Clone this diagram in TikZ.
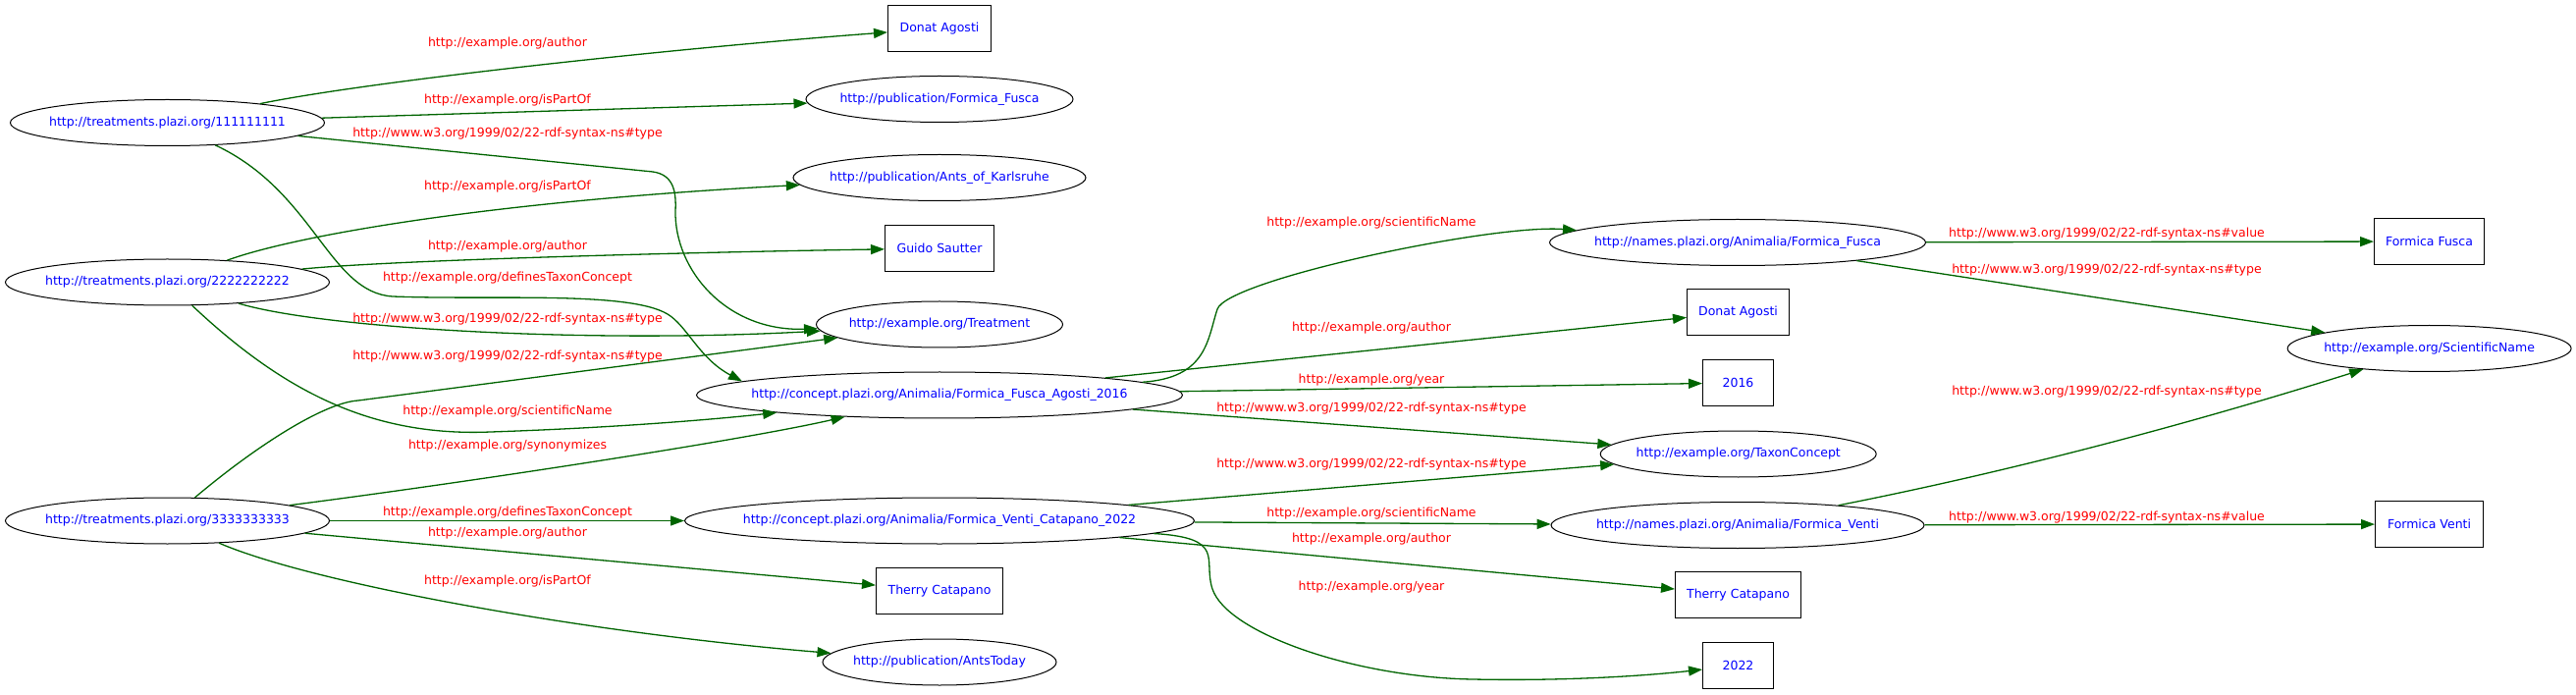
\documentclass[tikz,border=0pt]{standalone}
\usepackage{fontspec}
\setmainfont{DejaVu Sans}
\usepackage{xcolor}
\usetikzlibrary{arrows.meta}
\usetikzlibrary{shapes.geometric}
\definecolor{edgegreen}{RGB}{0,100,0}
\tikzset{
    tnode/.style = {align=center, inner sep=0pt, text centered, font=\fontsize{12.5pt}{15pt}\selectfont},
    res_node/.style = {tnode, ellipse, draw=black, text=blue, line width=1pt, inner xsep=-45pt, minimum height=47pt, minimum width=#1},
    lit_node/.style = {tnode, rectangle, draw=black, text=blue, line width=1pt, minimum height=47pt, minimum width=#1},
    pred/.style = {tnode, text=red},
    rel/.style = {->, draw=edgegreen, line width=1.3pt}
}

\begin{document}
\begin{tikzpicture}[x=1pt, y=-1pt, >={Triangle[length=14pt, width=10pt]}]
    \useasboundingbox (0,0) rectangle (2624,708);
    % treatments
    \node [res_node=320pt] (t1) at (170.5,125) {http://treatments.plazi.org/111111111};
    \node [res_node=330pt] (t2) at (170.5,287.5) {http://treatments.plazi.org/2222222222};
    \node [res_node=330pt] (t3) at (170.5,530.5) {http://treatments.plazi.org/3333333333};
    % second column
    \node [lit_node=105pt] (agosti_a) at (957,29) {Donat Agosti};
    \node [res_node=272pt] (pub_fusca) at (957,101) {http://publication/Formica\_Fusca};
    \node [res_node=298pt] (pub_karlsruhe) at (957,181) {http://publication/Ants\_of\_Karlsruhe};
    \node [lit_node=111pt] (sautter) at (957,253) {Guido Sautter};
    \node [res_node=251pt] (treatment) at (957,330.5) {http://example.org/Treatment};
    \node [res_node=495pt] (concept_fusca) at (957,402.5) {http://concept.plazi.org/Animalia/Formica\_Fusca\_Agosti\_2016};
    \node [res_node=519pt] (concept_venti) at (957,530.5) {http://concept.plazi.org/Animalia/Formica\_Venti\_Catapano\_2022};
    \node [lit_node=129pt] (catapano_a) at (957,602) {Therry Catapano};
    \node [res_node=238pt] (pub_today) at (957,674.5) {http://publication/AntsToday};
    % third column
    \node [res_node=383pt] (name_fusca) at (1770,247) {http://names.plazi.org/Animalia/Formica\_Fusca};
    \node [lit_node=104pt] (agosti_b) at (1770.5,318) {Donat Agosti};
    \node [lit_node=72pt] (year_a) at (1770.5,390) {2016};
    \node [res_node=281pt] (taxon) at (1770.7,462.5) {http://example.org/TaxonConcept};
    \node [res_node=380pt] (name_venti) at (1770,535) {http://names.plazi.org/Animalia/Formica\_Venti};
    \node [lit_node=128pt] (catapano_b) at (1770.5,606) {Therry Catapano};
    \node [lit_node=72pt] (year_b) at (1770.5,678) {2022};
    % last column
    \node [lit_node=112pt] (val_fusca) at (2474.5,246) {Formica Fusca};
    \node [res_node=289pt] (sciname) at (2474.6,355) {http://example.org/ScientificName};
    \node [lit_node=110pt] (val_venti) at (2474.5,534) {Formica Venti};

    % edges from the treatments
    \draw [rel] (t1) .. controls (380,82) and (700,48) .. (agosti_a);
    \draw [rel] (t1) -- (pub_fusca);
    \draw [rel] (t1) -- (665,175) .. controls (686,178) and (689,195) .. (688,215)
        .. controls (687,275) and (740,338) .. (treatment);
    \draw [rel] (t1) .. controls (320,195) and (335,298) .. (400,302)
        .. controls (500,306) and (640,296) .. (680,320)
        .. controls (700,332) and (712,365) .. (concept_fusca.176);
    \draw [rel] (t2) .. controls (300,240) and (500,205) .. (pub_karlsruhe);
    \draw [rel] (t2) .. controls (400,265) and (700,257) .. (sautter);
    \draw [rel] (t2) .. controls (330,335) and (600,350) .. (treatment);
    \draw [rel] (t2) .. controls (290,400) and (380,445) .. (500,440)
        .. controls (620,436) and (720,428) .. (concept_fusca);
    \draw [rel] (t3) .. controls (260,455) and (330,410) .. (365,408) -- (treatment);
    \draw [rel] (t3) .. controls (450,495) and (750,450) .. (concept_fusca);
    \draw [rel] (t3) -- (concept_venti);
    \draw [rel] (t3) -- (catapano_a);
    \draw [rel] (t3) .. controls (320,595) and (600,645) .. (pub_today);

    % edges from the concepts
    \draw [rel] (concept_fusca) .. controls (1230,385) and (1230,345) .. (1240,315)
        .. controls (1250,285) and (1520,228) .. (name_fusca);
    \draw [rel] (concept_fusca) -- (agosti_b);
    \draw [rel] (concept_fusca) -- (year_a);
    \draw [rel] (concept_fusca) -- (taxon);
    \draw [rel] (concept_venti) -- (taxon);
    \draw [rel] (concept_venti) -- (name_venti);
    \draw [rel] (concept_venti) -- (catapano_b);
    \draw [rel] (concept_venti) .. controls (1250,548) and (1225,570) .. (1235,600)
        .. controls (1250,645) and (1380,690) .. (1500,692)
        .. controls (1600,694) and (1680,688) .. (year_b);

    % edges from the names
    \draw [rel] (name_fusca) -- (val_fusca);
    \draw [rel] (name_fusca) -- (sciname);
    \draw [rel] (name_venti) -- (val_venti);
    \draw [rel] (name_venti) .. controls (2100,470) and (2300,410) .. (sciname);

    % predicate labels
    \node [pred] (l_t1_author) at (517,44) {http://example.org/author};
    \node [pred] (l_t1_part) at (517,102) {http://example.org/isPartOf};
    \node [pred] (l_t1_type) at (517,136) {http://www.w3.org/1999/02/22-rdf-syntax-ns\#type};
    \node [pred] (l_t2_part) at (517,190) {http://example.org/isPartOf};
    \node [pred] (l_t2_author) at (517,250.7) {http://example.org/author};
    \node [pred] (l_t1_defines) at (517,283) {http://example.org/definesTaxonConcept};
    \node [pred] (l_t2_type) at (517,325) {http://www.w3.org/1999/02/22-rdf-syntax-ns\#type};
    \node [pred] (l_t3_type) at (517,362.7) {http://www.w3.org/1999/02/22-rdf-syntax-ns\#type};
    \node [pred] (l_t2_name) at (517,418.7) {http://example.org/scientificName};
    \node [pred] (l_t3_syn) at (517,454) {http://example.org/synonymizes};
    \node [pred] (l_t3_defines) at (517,522.3) {http://example.org/definesTaxonConcept};
    \node [pred] (l_t3_author) at (517,543.3) {http://example.org/author};
    \node [pred] (l_t3_part) at (517,591.7) {http://example.org/isPartOf};
    \node [pred] (l_cf_name) at (1397,226.7) {http://example.org/scientificName};
    \node [pred] (l_cf_author) at (1397,334) {http://example.org/author};
    \node [pred] (l_cf_year) at (1397,386.7) {http://example.org/year};
    \node [pred] (l_cf_type) at (1397,415.7) {http://www.w3.org/1999/02/22-rdf-syntax-ns\#type};
    \node [pred] (l_cv_type) at (1397,472.7) {http://www.w3.org/1999/02/22-rdf-syntax-ns\#type};
    \node [pred] (l_cv_name) at (1397,523.3) {http://example.org/scientificName};
    \node [pred] (l_cv_author) at (1397,549) {http://example.org/author};
    \node [pred] (l_cv_year) at (1397,598.3) {http://example.org/year};
    \node [pred] (l_nf_value) at (2146,238.3) {http://www.w3.org/1999/02/22-rdf-syntax-ns\#value};
    \node [pred] (l_nf_type) at (2146,275) {http://www.w3.org/1999/02/22-rdf-syntax-ns\#type};
    \node [pred] (l_nv_type) at (2146,399) {http://www.w3.org/1999/02/22-rdf-syntax-ns\#type};
    \node [pred] (l_nv_value) at (2146,526.7) {http://www.w3.org/1999/02/22-rdf-syntax-ns\#value};
\end{tikzpicture}
\end{document}
